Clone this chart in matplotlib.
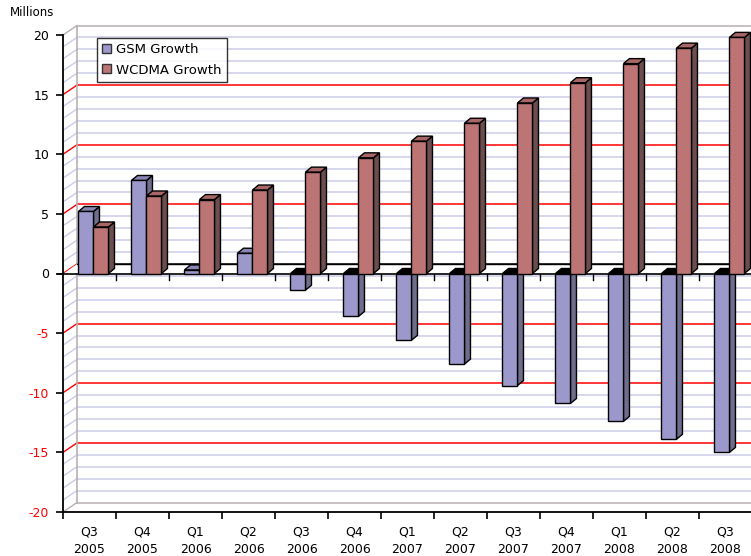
import numpy as np
import matplotlib
matplotlib.use("Agg")
import matplotlib.pyplot as plt
from matplotlib.patches import Polygon, Rectangle

# data (millions)
quarters = ["Q3\n2005", "Q4\n2005", "Q1\n2006", "Q2\n2006", "Q3\n2006", "Q4\n2006",
            "Q1\n2007", "Q2\n2007", "Q3\n2007", "Q4\n2007", "Q1\n2008", "Q2\n2008", "Q3\n2008"]
gsm_growth = [5.2, 7.8, 0.3, 1.7, -1.4, -3.6, -5.6, -7.6, -9.4, -10.9, -12.4, -13.9, -15.0]
wcdma_growth = [3.9, 6.5, 6.2, 7.0, 8.5, 9.7, 11.1, 12.6, 14.3, 16.0, 17.6, 18.9, 19.8]
y_ticks = [20, 15, 10, 5, 0, -5, -10, -15, -20]

# colours
gsm_front, gsm_side, gsm_top = "#9c98cc", "#6f6c8c", "#8a86b4"
wcdma_front, wcdma_side, wcdma_top = "#bc7474", "#6c4e4e", "#a86666"
grid_col = "#cccce8"
red = "#ff0000"
wall_col = "#b8b0b0"

W, H = 751, 556
fig = plt.figure(figsize=(W / 100, H / 100), dpi=100)

# axes placed so that front axis: x 63..752 px, y=-20 at 512 px, y=20 at 35 px
ppu = (512 - 35) / 40.0
ymax = 21
top_px = 35 - (ymax - 20) * ppu
ax = fig.add_axes([63 / W, (H - 512) / H, 689 / W, (512 - top_px) / H])
ax.set_xlim(0, 13)
ax.set_ylim(-20, ymax)

cat_px = 53.0
dx = 14 / cat_px      # depth of the back wall
dy = 9.5 / ppu
bdx = 6 / cat_px      # depth of a bar
bdy = 5 / ppu
bw = 15 / cat_px      # bar width
shift = 0.075

# back wall and side wall gridlines
for v in range(-20, 21):
    if v in (-20, 20):
        c = wall_col
    elif v == 0:
        c = "black"
    elif v % 5 == 0:
        c = red
    else:
        c = grid_col
    ax.plot([dx, 13.5], [v + dy, v + dy], color=c, lw=1.1, zorder=1, clip_on=False)
    side_c = red if (v % 5 == 0 and abs(v) != 20) else c
    ax.plot([0, dx], [v, v + dy], color=side_c, lw=1.0, zorder=1)
ax.plot([dx, dx], [-20 + dy, 20 + dy], color=wall_col, lw=1.2, zorder=1)

# floor at zero
ax.add_patch(Polygon([(0, 0), (13.5, 0), (13.5, dy), (dx, dy)], closed=True,
                     facecolor="white", edgecolor="none", zorder=1.5))
ax.plot([dx, 13.5], [dy, dy], color="black", lw=1, zorder=1.6, clip_on=False)
ax.plot([-0.1, 13.5], [0, 0], color="black", lw=1.2, zorder=1.6, clip_on=False)
for i in range(1, 14):
    ax.plot([i, i], [0, -0.55], color="black", lw=1, zorder=1.6, clip_on=False)


def draw_bar(x0, v, front, side, top):
    x1 = x0 + bw
    lo, hi = min(v, 0), max(v, 0)
    # side face
    ax.add_patch(Polygon([(x1, lo), (x1 + bdx, lo + bdy), (x1 + bdx, hi + bdy), (x1, hi)],
                         closed=True, facecolor=side, edgecolor="black", lw=1, zorder=3,
                         clip_on=False))
    # top face
    tc = top if v > 0 else "black"
    ax.add_patch(Polygon([(x0, hi), (x1, hi), (x1 + bdx, hi + bdy), (x0 + bdx, hi + bdy)],
                         closed=True, facecolor=tc, edgecolor="black", lw=1, zorder=3,
                         clip_on=False))
    # front face
    ax.add_patch(Rectangle((x0, lo), bw, hi - lo, facecolor=front, edgecolor="black",
                           lw=1, zorder=3.1, clip_on=False))


for i in range(len(quarters)):
    c = i + 0.5 + shift
    draw_bar(c - bw, gsm_growth[i], gsm_front, gsm_side, gsm_top)
    draw_bar(c, wcdma_growth[i], wcdma_front, wcdma_side, wcdma_top)

# axes styling
for s in ["top", "right"]:
    ax.spines[s].set_visible(False)
ax.spines["left"].set_bounds(-20, 20)
ax.spines["bottom"].set_bounds(0, 13)
ax.spines["left"].set_linewidth(1.3)
ax.spines["bottom"].set_linewidth(1.3)
ax.spines["left"].set_zorder(5)

ax.set_yticks(y_ticks)
ax.set_yticklabels([str(t) for t in y_ticks])
for lab, t in zip(ax.get_yticklabels(), y_ticks):
    lab.set_color(red if t < 0 else "black")
ax.tick_params(axis="y", direction="out", length=5, width=1.2, labelsize=9, pad=5)

ax.set_xticks(np.arange(0, 14))
ax.set_xticklabels([])
ax.set_xticks(np.arange(13) + 0.5, minor=True)
ax.set_xticklabels(quarters, minor=True, linespacing=1.45)
ax.tick_params(axis="x", which="major", direction="out", length=5, width=1.2)
ax.tick_params(axis="x", which="minor", length=0, labelsize=9, pad=10)

fig.text(10 / W, 1 - 13 / H, "Millions", fontsize=8.5, va="center", ha="left")

leg_handles = [Rectangle((0, 0), 1, 1, facecolor=gsm_front, edgecolor="#333333"),
               Rectangle((0, 0), 1, 1, facecolor=wcdma_front, edgecolor="#333333")]
leg = ax.legend(leg_handles, ["GSM Growth", "WCDMA Growth"], loc="upper left",
                bbox_to_anchor=((97 - 63) / 689, 1 - (38 - top_px) / (512 - top_px)),
                fontsize=9.5, frameon=True, fancybox=False, edgecolor="black",
                handlelength=0.65, handleheight=0.65, handletextpad=0.4,
                borderpad=0.4, labelspacing=0.55, borderaxespad=0)
leg.get_frame().set_linewidth(1)
leg.set_zorder(10)

fig.savefig("out.png", dpi=100)
